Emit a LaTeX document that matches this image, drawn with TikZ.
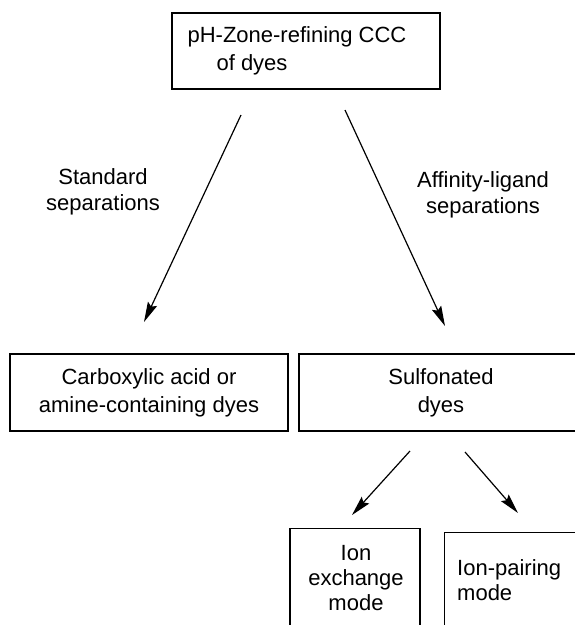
\documentclass[tikz,border=0pt]{standalone}
\usepackage{fontspec}
\setmainfont{Liberation Sans}
\usetikzlibrary{arrows.meta}

\begin{document}
\begin{tikzpicture}[>={Stealth[length=20pt,width=10pt,inset=3pt]},x=1pt,y=-1pt,
	box/.style={draw,line width=1.4pt,inner sep=0pt,align=center,font=\fontsize{22}{28}\selectfont},
	lab/.style={align=center,inner sep=0pt,font=\fontsize{22}{26}\selectfont}]
			\useasboundingbox (0,0) rectangle (575,625);
			\clip (0,0) rectangle (575,625);
			\node[box,align=left,minimum width=268pt,minimum height=76pt] (top) at (306,51) {pH-Zone-refining CCC\hspace*{18pt}\\\hspace*{29pt}of dyes};
			\node[box,minimum width=278pt,minimum height=77pt] (carb) at (149,392.5) {Carboxylic acid or\\amine-containing dyes};
			\node[box,minimum width=284pt,minimum height=77pt] (sulf) at (441,392.5) {Sulfonated\\dyes};
			\node[box,minimum width=130pt,minimum height=140pt,anchor=north] (ionex) at (355,528) {};
			\node[box,align=left,minimum width=200pt,minimum height=140pt,anchor=north west] (ionpair) at (444,532) {};
			\node[lab,anchor=base,font=\fontsize{22}{25}\selectfont] at (356,610) {Ion\\exchange\\mode};
			\node[lab,anchor=base west,align=left,font=\fontsize{22}{25}\selectfont] at (457,600) {Ion-pairing\\mode};
			
			\node[lab,anchor=base] (std) at (103,210) {Standard\\separations};
			\node[lab,anchor=base] (aff) at (483,213) {Affinity-ligand\\separations};
			
			\coordinate (a1) at (241,115);
			\coordinate (b1) at (144,322);
			\coordinate (a2) at (345,110);
			\coordinate (b2) at (445,326);
			\coordinate (a3) at (410,451);
			\coordinate (b3) at (352,515);
			\coordinate (a4) at (465,452);
			\coordinate (b4) at (518,513);
			\draw[->,line width=1.2pt] (a1) -- (b1);
			\draw[->,line width=1.2pt] (a2) -- (b2);
			\draw[->,line width=1.2pt] (a3) -- (b3);
			\draw[->,line width=1.2pt] (a4) -- (b4);
	\end{tikzpicture}
\end{document}
